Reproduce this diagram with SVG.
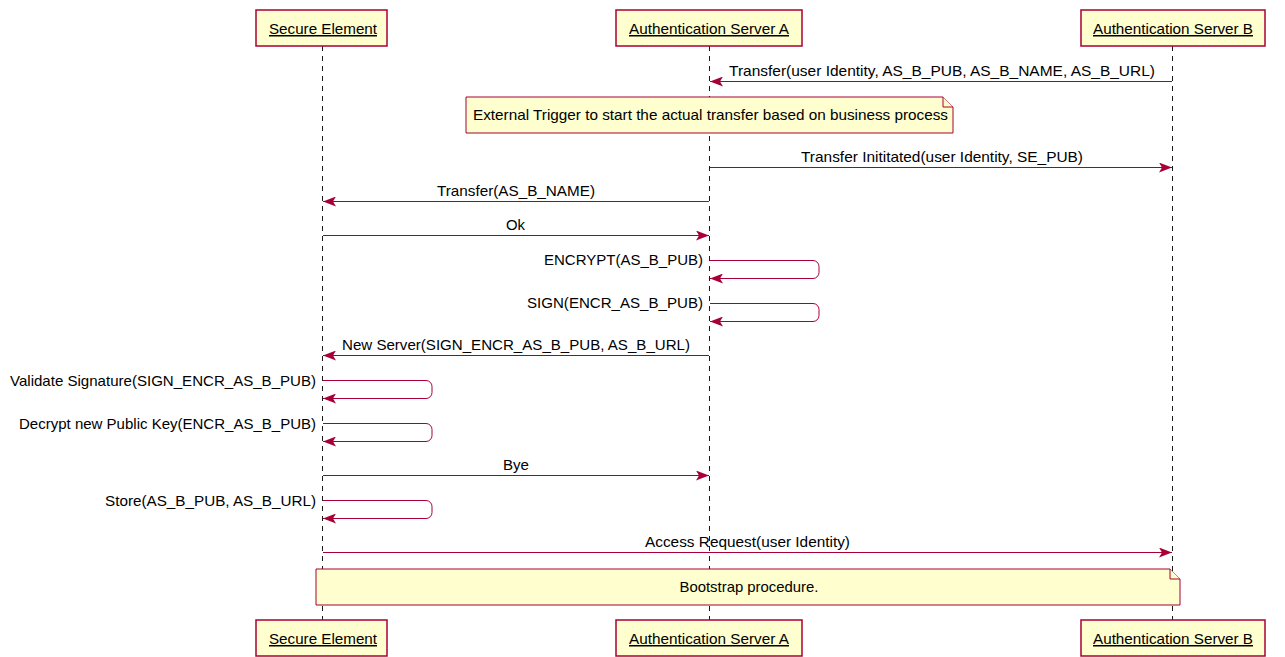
<svg xmlns="http://www.w3.org/2000/svg" width="1285" height="657" viewBox="0 0 1285 657">
<style>
.box{fill:#FEFECE;stroke:#A80036;stroke-width:1.5}
.note{fill:#FEFECE;stroke:#A80036;stroke-width:1}
.life{stroke:#1a1a1a;stroke-width:1;stroke-dasharray:5,5;fill:none}
.msg{stroke:#A80036;stroke-width:1;fill:none;marker-end:url(#ah)}
.t{font-family:"Liberation Sans",Arial,sans-serif;font-size:15px;fill:#000}
.p{font-family:"Liberation Sans",Arial,sans-serif;font-size:15px;fill:#000;text-decoration:underline}
</style>
<defs>
<marker id="ah" viewBox="0 0 13 10" refX="13" refY="5" markerWidth="13" markerHeight="10" markerUnits="userSpaceOnUse" orient="auto">
<path d="M0,0 L13,5 L0,10 L3,5 Z" fill="#A80036"/>
</marker>
</defs>
<rect width="1285" height="657" fill="#fff"/>
<g id="lifelines">
<line class="life" x1="322.5" y1="46" x2="322.5" y2="620"/>
<line class="life" x1="709.5" y1="46" x2="709.5" y2="620"/>
<line class="life" x1="1172.5" y1="46" x2="1172.5" y2="620"/>
</g>
<g id="secure-element">
<rect class="box" x="256" y="10" width="131" height="36"/>
<text class="p" x="323" y="34" text-anchor="middle" textLength="108" lengthAdjust="spacingAndGlyphs">Secure Element</text>
<rect class="box" x="256" y="620" width="131" height="36"/>
<text class="p" x="323" y="644" text-anchor="middle" textLength="108" lengthAdjust="spacingAndGlyphs">Secure Element</text>
</g>
<g id="auth-server-a">
<rect class="box" x="616" y="10" width="186" height="36"/>
<text class="p" x="709" y="34" text-anchor="middle" textLength="160" lengthAdjust="spacingAndGlyphs">Authentication Server A</text>
<rect class="box" x="616" y="620" width="186" height="36"/>
<text class="p" x="709" y="644" text-anchor="middle" textLength="160" lengthAdjust="spacingAndGlyphs">Authentication Server A</text>
</g>
<g id="auth-server-b">
<rect class="box" x="1081" y="10" width="184" height="36"/>
<text class="p" x="1173" y="34" text-anchor="middle" textLength="160" lengthAdjust="spacingAndGlyphs">Authentication Server B</text>
<rect class="box" x="1081" y="620" width="184" height="36"/>
<text class="p" x="1173" y="644" text-anchor="middle" textLength="160" lengthAdjust="spacingAndGlyphs">Authentication Server B</text>
</g>
<g id="note-trigger">
<path class="note" d="M466,97 H943 L953,107 V133 H466 Z"/>
<path class="note" d="M943,97 V107 H953"/>
<text class="t" x="473" y="120" textLength="475" lengthAdjust="spacingAndGlyphs">External Trigger to start the actual transfer based on business process</text>
</g>
<g id="note-bootstrap">
<path class="note" d="M316,569 H1170 L1180,579 V605 H316 Z"/>
<path class="note" d="M1170,569 V579 H1180"/>
<text class="t" x="749" y="592" text-anchor="middle" textLength="139" lengthAdjust="spacingAndGlyphs">Bootstrap procedure.</text>
</g>
<g id="connectors">
<line class="msg" x1="1172" y1="81.5" x2="710" y2="81.5"/>
<line class="msg" x1="710" y1="167.5" x2="1172" y2="167.5"/>
<line class="msg" x1="709" y1="201.5" x2="323" y2="201.5"/>
<line class="msg" x1="323" y1="235.5" x2="709" y2="235.5"/>
<path class="msg" d="M710,260.5 H813 A6,6 0 0 1 819,266.5 V272.5 A6,6 0 0 1 813,278.5 H710"/>
<path class="msg" d="M710,303.5 H813 A6,6 0 0 1 819,309.5 V315.5 A6,6 0 0 1 813,321.5 H710"/>
<line class="msg" x1="709" y1="355.5" x2="323" y2="355.5"/>
<path class="msg" d="M323,380.5 H426 A6,6 0 0 1 432,386.5 V392.5 A6,6 0 0 1 426,398.5 H323"/>
<path class="msg" d="M323,423.5 H426 A6,6 0 0 1 432,429.5 V435.5 A6,6 0 0 1 426,441.5 H323"/>
<line class="msg" x1="323" y1="475.5" x2="709" y2="475.5"/>
<path class="msg" d="M323,500.5 H426 A6,6 0 0 1 432,506.5 V512.5 A6,6 0 0 1 426,518.5 H323"/>
<line class="msg" x1="323" y1="552.5" x2="1172" y2="552.5"/>
<text class="t" x="729" y="76" textLength="426" lengthAdjust="spacingAndGlyphs">Transfer(user Identity, AS_B_PUB, AS_B_NAME, AS_B_URL)</text>
<text class="t" x="801" y="162" textLength="282" lengthAdjust="spacingAndGlyphs">Transfer Inititated(user Identity, SE_PUB)</text>
<text class="t" x="437" y="196" textLength="158" lengthAdjust="spacingAndGlyphs">Transfer(AS_B_NAME)</text>
<text class="t" x="506" y="230" textLength="19" lengthAdjust="spacingAndGlyphs">Ok</text>
<text class="t" x="703" y="265" text-anchor="end" textLength="159" lengthAdjust="spacingAndGlyphs">ENCRYPT(AS_B_PUB)</text>
<text class="t" x="703" y="308" text-anchor="end" textLength="176" lengthAdjust="spacingAndGlyphs">SIGN(ENCR_AS_B_PUB)</text>
<text class="t" x="342" y="350" textLength="348" lengthAdjust="spacingAndGlyphs">New Server(SIGN_ENCR_AS_B_PUB, AS_B_URL)</text>
<text class="t" x="316" y="386" text-anchor="end" textLength="306" lengthAdjust="spacingAndGlyphs">Validate Signature(SIGN_ENCR_AS_B_PUB)</text>
<text class="t" x="316" y="429" text-anchor="end" textLength="297" lengthAdjust="spacingAndGlyphs">Decrypt new Public Key(ENCR_AS_B_PUB)</text>
<text class="t" x="503" y="470" textLength="26" lengthAdjust="spacingAndGlyphs">Bye</text>
<text class="t" x="316" y="506" text-anchor="end" textLength="211" lengthAdjust="spacingAndGlyphs">Store(AS_B_PUB, AS_B_URL)</text>
<text class="t" x="645" y="547" textLength="205" lengthAdjust="spacingAndGlyphs">Access Request(user Identity)</text>
</g>
</svg>
